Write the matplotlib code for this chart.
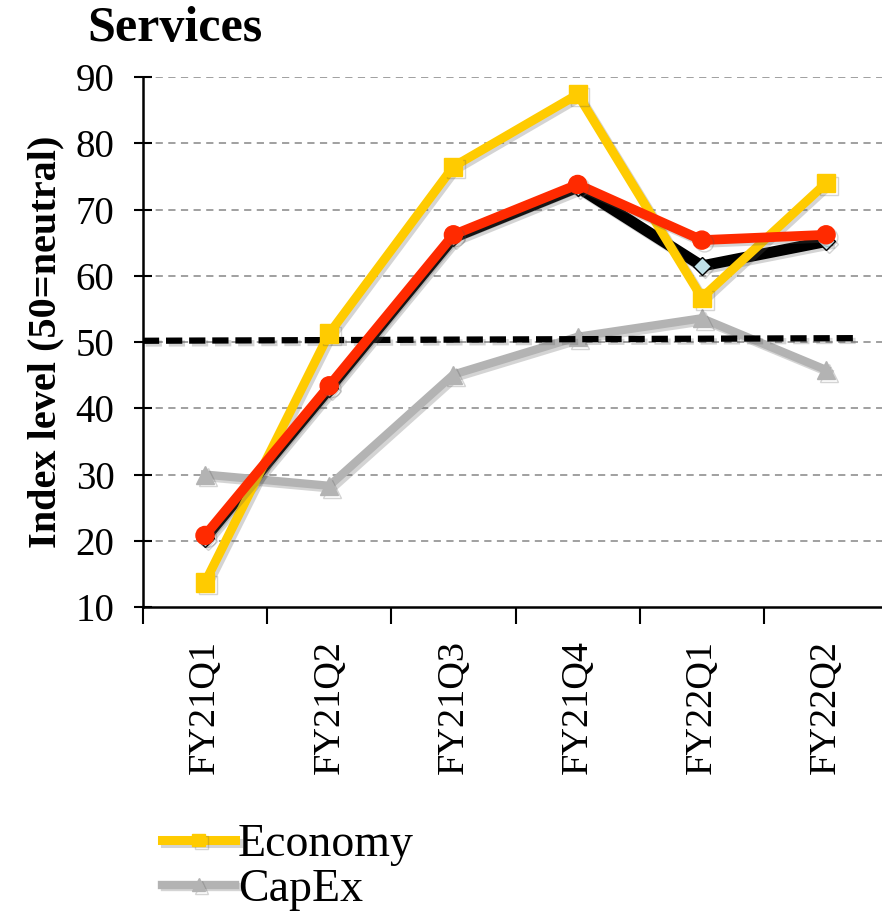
import matplotlib
matplotlib.use('Agg')
import matplotlib.pyplot as plt
import matplotlib.patheffects as pe
import numpy as np

quarters = ['FY21Q1', 'FY21Q2', 'FY21Q3', 'FY21Q4', 'FY22Q1', 'FY22Q2']
economy = [13.7, 51.3, 76.5, 87.4, 56.7, 74.0]
capex = [30.0, 28.3, 45.1, 50.8, 53.6, 45.8]
overall = [20.4, 43.0, 65.8, 73.4, 61.5, 65.2]
business = [20.8, 43.4, 66.2, 73.8, 65.4, 66.2]
neutral_x = [-0.5, 5.27]
neutral_y = [50.2, 50.6]

plt.rcParams['font.family'] = ['Liberation Serif', 'DejaVu Serif']

fig = plt.figure(figsize=(8.82, 9.19), dpi=100)
ax = fig.add_axes([0.162, 0.3395, 0.845, 0.5765])

x = np.arange(len(quarters))
shadow = [pe.SimpleLineShadow(offset=(2, -2), alpha=0.25, shadow_color='#555555'), pe.Normal()]

ax.plot(x, capex, color='#b3b3b3', lw=6, marker='^', ms=13, mec='#b3b3b3',
        label='CapEx', zorder=3, path_effects=shadow)
ax.plot(neutral_x, neutral_y, color='black', lw=4.5, ls=(0, (2.6, 1.1)),
        zorder=4, path_effects=shadow)
ax.plot(x, overall, color='black', lw=8, marker='D', ms=9, mfc='#bfe0e8', mec='black',
        mew=1, zorder=5, path_effects=shadow)
ax.plot(x, economy, color='#ffcb00', lw=6.5, marker='s', ms=13, mec='#ffcb00',
        label='Economy', zorder=6, path_effects=shadow)
ax.plot(x, business, color='#ff2a00', lw=7, marker='o', ms=13, mec='#ff2a00',
        zorder=7, path_effects=shadow)

ax.set_xlim(-0.5, len(quarters) - 0.5)
ax.set_ylim(10, 90)
ax.set_yticks(range(10, 91, 10))
ax.set_xticks(x)
ax.set_xticklabels(quarters, rotation=90, fontsize=27.5)
ax.set_xticks(np.arange(-0.5, len(quarters), 1.0), minor=True)
ax.tick_params(axis='x', which='major', length=0, pad=24)
ax.tick_params(axis='x', which='minor', length=12, width=1.5, direction='out')
ax.tick_params(axis='y', length=13, width=1.5, direction='inout', labelsize=28, pad=14)

for val in range(20, 91, 10):
    ax.axhline(val, color='#999999', lw=1.3, ls=(0, (4, 3)), zorder=1)

for side in ['top', 'right']:
    ax.spines[side].set_visible(False)
for side in ['left', 'bottom']:
    ax.spines[side].set_linewidth(1.8)

ax.set_ylabel('Index level (50=neutral)', fontsize=29, fontweight='bold', labelpad=8)
fig.text(0.099, 0.968, 'Services', fontsize=36, fontweight='bold', va='center')

handles, labels = ax.get_legend_handles_labels()
order = [labels.index('Economy'), labels.index('CapEx')]
fig.legend([handles[i] for i in order], [labels[i] for i in order],
           loc='upper left', bbox_to_anchor=(0.163, 0.124), frameon=False,
           fontsize=33, handlelength=1.6, handletextpad=0.05, labelspacing=0.05,
           borderaxespad=0, markerscale=0.7)

fig.savefig('out.png', dpi=100)
